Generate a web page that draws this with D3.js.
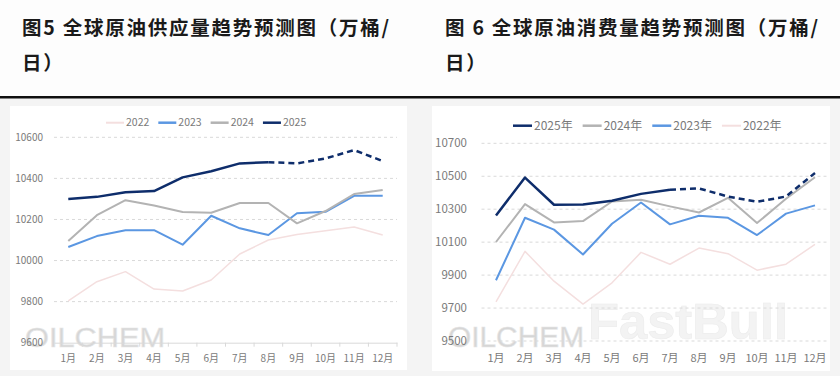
<!DOCTYPE html>
<html>
<head>
<meta charset="utf-8">
<script src="https://cdn.jsdelivr.net/npm/d3@7"></script>
<style>
  body { margin: 0; background: #fff; }
  svg { display: block; font-family: "Noto Sans CJK SC", "Noto Sans", sans-serif; }
</style>
</head>
<body>
<div id="content"></div>
<script>
const months = ["1月", "2月", "3月", "4月", "5月", "6月", "7月", "8月", "9月", "10月", "11月", "12月"]

// supply, 万桶/日
const supply2022 = [9804, 9897, 9946, 9861, 9852, 9905, 10032, 10100, 10127, 10145, 10163, 10124]
const supply2023 = [10066, 10119, 10147, 10148, 10077, 10218, 10157, 10124, 10230, 10237, 10315, 10315]
const supply2024 = [10095, 10221, 10294, 10268, 10236, 10233, 10280, 10280, 10181, 10241, 10324, 10343]
const supply2025 = [10300, 10310, 10332, 10338, 10405, 10435, 10473, 10479, 10473, 10497, 10538, 10484]
const supplyTicks = [9600, 9800, 10000, 10200, 10400, 10600]

// demand, 万桶/日
const demand2022 = [9738, 10044, 9863, 9724, 9853, 10038, 9966, 10064, 10030, 9930, 9966, 10087]
const demand2023 = [9869, 10248, 10176, 10025, 10212, 10341, 10208, 10260, 10248, 10143, 10273, 10323]
const demand2024 = [10101, 10331, 10220, 10228, 10347, 10357, 10317, 10280, 10369, 10216, 10363, 10494]
const demand2025 = [10262, 10492, 10327, 10329, 10351, 10393, 10418, 10426, 10377, 10345, 10377, 10520]
const demandTicks = [9500, 9700, 9900, 10100, 10300, 10500, 10700]

const colors = {"2022": "#f4dfdf", "2023": "#5b97e2", "2024": "#b3b3b3", "2025": "#0e2d6b"}
const widths = {"2022": 1.5, "2023": 2, "2024": 2, "2025": 2.5}

const svg = d3.select("#content").append("svg")
    .attr("width", 840)
    .attr("height", 376)

// page background + rule
svg.append("rect").attr("x", 0).attr("y", 0).attr("width", 840).attr("height", 376).attr("fill", "#fdfdfd")
svg.append("rect").attr("x", 0).attr("y", 98).attr("width", 840).attr("height", 278).attr("fill", "#f4f4f4")
svg.append("rect").attr("x", 0).attr("y", 96).attr("width", 840).attr("height", 2.5).attr("fill", "#111")

// titles
const titles = [
    {x: 22, lines: ["图5 全球原油供应量趋势预测图（万桶/", "日）"]},
    {x: 445, lines: ["图 6 全球原油消费量趋势预测图（万桶/", "日）"]},
]
titles.forEach(t => {
    t.lines.forEach((line, i) => {
        svg.append("text")
            .attr("x", t.x)
            .attr("y", 35 + i * 35)
            .style("font-size", "19.5px")
            .style("font-weight", "700")
            .style("letter-spacing", "1.75px")
            .attr("fill", "#1a1a1a")
            .text(line)
    })
})

function drawChart(cfg) {
    const g = svg.append("g")

    g.append("rect")
        .attr("x", cfg.panel[0]).attr("y", cfg.panel[1])
        .attr("width", cfg.panel[2]).attr("height", cfg.panel[3])
        .attr("fill", "#fff")

    const xScale = d3.scaleBand()
        .domain(months)
        .range(cfg.xRange)
    const yScale = d3.scaleLinear()
        .domain(d3.extent(cfg.ticks))
        .range(cfg.yRange)
    const cx = d => xScale(d) + xScale.bandwidth() / 2

    // watermarks
    cfg.marks.forEach(m => {
        g.append("text")
            .attr("x", m.x).attr("y", m.y)
            .attr("textLength", m.w)
            .attr("lengthAdjust", "spacingAndGlyphs")
            .style("font-family", "Liberation Sans, Arial, sans-serif")
            .style("font-size", m.size + "px")
            .style("font-weight", m.weight)
            .attr("fill", m.fill)
            .attr("stroke", m.stroke)
            .attr("stroke-width", 0.6)
            .text(m.text)
    })

    // grid
    const gridTicks = cfg.axisLine ? cfg.ticks.slice(1) : cfg.ticks
    g.selectAll(".grid")
        .data(gridTicks)
        .enter().append("line")
        .attr("x1", cfg.xRange[0]).attr("x2", cfg.xRange[1])
        .attr("y1", d => yScale(d)).attr("y2", d => yScale(d))
        .attr("stroke", "#d9d9d9")
        .attr("stroke-width", 1)
        .attr("stroke-dasharray", "3,3")

    if (cfg.axisLine) {
        const xAxis = d3.axisBottom(xScale).tickSize(0).tickFormat("")
        const ax = g.append("g")
            .attr("transform", `translate(0, ${yScale(cfg.ticks[0])})`)
            .call(xAxis)
        ax.select(".domain").attr("stroke", "#d9d9d9")
        ax.selectAll(".bnd")
            .data(months.slice(1))
            .enter().append("line")
            .attr("x1", d => xScale(d)).attr("x2", d => xScale(d))
            .attr("y1", 0).attr("y2", 4)
            .attr("stroke", "#d9d9d9")
        ax.append("line")
            .attr("x1", cfg.xRange[1]).attr("x2", cfg.xRange[1])
            .attr("y1", 0).attr("y2", 4)
            .attr("stroke", "#d9d9d9")
    }

    // y labels
    g.selectAll(".ylab")
        .data(cfg.ticks)
        .enter().append("text")
        .attr("x", cfg.yLabelX)
        .attr("y", d => yScale(d))
        .attr("dy", "0.35em")
        .style("text-anchor", "end")
        .style("font-size", cfg.yFont + "px")
        .attr("fill", "#7a7a7a")
        .text(d => d)

    // x labels
    g.selectAll(".xlab")
        .data(months)
        .enter().append("text")
        .attr("x", d => cx(d))
        .attr("y", cfg.xLabelY)
        .attr("dy", "0.35em")
        .style("text-anchor", "middle")
        .style("font-size", cfg.xFont + "px")
        .attr("fill", "#7a7a7a")
        .text(d => d)

    // lines, drawn oldest first so 2025 sits on top
    const line = d3.line()
        .x(d => cx(d.m))
        .y(d => yScale(d.v))
    ;["2022", "2023", "2024", "2025"].forEach(year => {
        const pts = cfg.series[year].map((v, i) => ({m: months[i], v: v}))
        const split = year === "2025" ? cfg.dashFrom : pts.length - 1
        g.append("path")
            .datum(pts.slice(0, split + 1))
            .attr("d", line)
            .attr("fill", "none")
            .attr("stroke", colors[year])
            .attr("stroke-width", widths[year])
            .attr("stroke-linejoin", "round")
        if (split < pts.length - 1) {
            g.append("path")
                .datum(pts.slice(split))
                .attr("d", line)
                .attr("fill", "none")
                .attr("stroke", colors[year])
                .attr("stroke-width", widths[year])
                .attr("stroke-dasharray", "6,4")
        }
    })

    // legend
    let lx = cfg.legend.x
    cfg.legend.order.forEach(year => {
        g.append("line")
            .attr("x1", lx).attr("x2", lx + cfg.legend.sample)
            .attr("y1", cfg.legend.y).attr("y2", cfg.legend.y)
            .attr("stroke", colors[year])
            .attr("stroke-width", widths[year] === 1.5 ? 2 : 2.5)
        const t = g.append("text")
            .attr("x", lx + cfg.legend.sample + 2)
            .attr("y", cfg.legend.y)
            .attr("dy", "0.35em")
            .style("font-size", cfg.legend.font + "px")
            .attr("fill", "#7a7a7a")
            .text(year + cfg.legend.suffix)
        lx += cfg.legend.sample + 2 + t.node().getComputedTextLength() + cfg.legend.gap
    })
}

drawChart({
    panel: [10, 106, 397, 264],
    xRange: [54, 397],
    yRange: [342.7, 137.3],
    ticks: supplyTicks,
    axisLine: true,
    yLabelX: 43,
    yFont: 10,
    xLabelY: 358,
    xFont: 10,
    dashFrom: 7,
    series: {"2022": supply2022, "2023": supply2023, "2024": supply2024, "2025": supply2025},
    legend: {x: 106, y: 122.7, sample: 18, gap: 9, font: 10.5, suffix: "", order: ["2022", "2023", "2024", "2025"]},
    marks: [
        {text: "OILCHEM", x: 25, y: 347, w: 140, size: 27, weight: 400, fill: "#d6d6d6", stroke: "#e6e6e6"},
    ],
})

drawChart({
    panel: [432, 106, 398, 265],
    xRange: [481.5, 829.5],
    yRange: [341, 143.3],
    ticks: demandTicks,
    axisLine: false,
    yLabelX: 467,
    yFont: 11.5,
    xLabelY: 358,
    xFont: 11,
    dashFrom: 6,
    series: {"2022": demand2022, "2023": demand2023, "2024": demand2024, "2025": demand2025},
    legend: {x: 513, y: 125.7, sample: 19, gap: 10, font: 12, suffix: "年", order: ["2025", "2024", "2023", "2022"]},
    marks: [
        {text: "FastBull", x: 588, y: 339, w: 200, size: 50, weight: 700, fill: "#f3f3f3", stroke: "#ececec"},
        {text: "OILCHEM", x: 448, y: 347, w: 136, size: 30, weight: 400, fill: "#d6d6d6", stroke: "#e6e6e6"},
    ],
})
</script>
</body>
</html>
